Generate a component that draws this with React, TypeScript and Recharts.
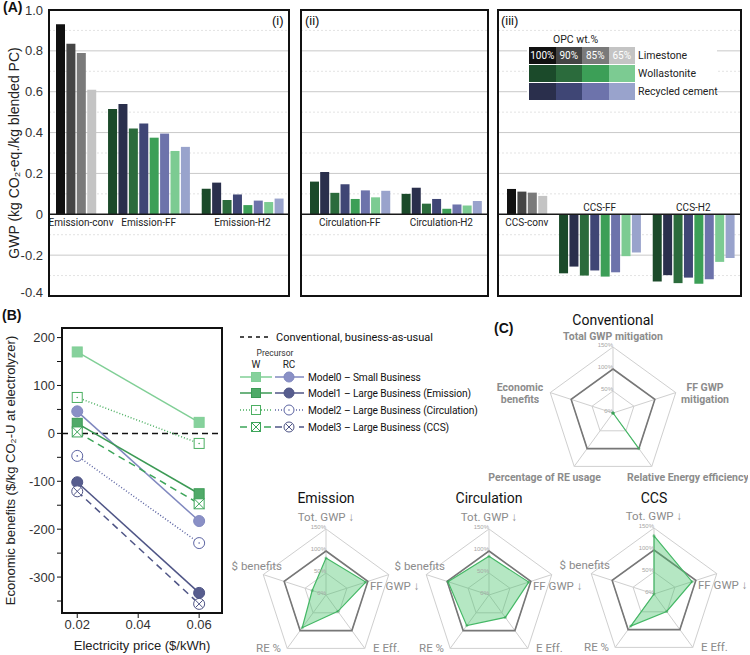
import React from 'react';
import {
  BarChart, Bar, Cell, XAxis, YAxis, CartesianGrid, ReferenceLine, ReferenceArea,
  LineChart, Line, RadarChart, Radar, PolarGrid, PolarAngleAxis, PolarRadiusAxis,
} from 'recharts';

// ---------- (A) GWP bars ----------
const opcLevels = ['100%', '90%', '85%', '65%'];
const limestoneColors = ['#111111', '#454545', '#7a7a7a', '#c4c4c4'];
const wollastoniteColors = ['#1b4a2a', '#2b6b3c', '#3c9f57', '#7ccb92'];
const recycledColors = ['#2a2f4c', '#3f4675', '#6d73ab', '#99a3cc'];

// kg CO2-eq / kg blended PC, one value per OPC wt.%
const emissionConv = [0.93, 0.835, 0.79, 0.61];
const emissionFFW = [0.515, 0.42, 0.375, 0.31];
const emissionFFRC = [0.54, 0.445, 0.395, 0.33];
const emissionH2W = [0.125, 0.07, 0.045, 0.06];
const emissionH2RC = [0.155, 0.097, 0.067, 0.077];
const circulationFFW = [0.16, 0.105, 0.075, 0.083];
const circulationFFRC = [0.207, 0.147, 0.117, 0.115];
const circulationH2W = [0.1, 0.052, 0.027, 0.043];
const circulationH2RC = [0.13, 0.075, 0.048, 0.065];
const ccsConv = [0.124, 0.111, 0.106, 0.09];
const ccsFFW = [-0.289, -0.3, -0.305, -0.205];
const ccsFFRC = [-0.256, -0.275, -0.284, -0.187];
const ccsH2W = [-0.329, -0.337, -0.34, -0.233];
const ccsH2RC = [-0.298, -0.31, -0.318, -0.214];

const gwpTicks = [1.0, 0.8, 0.6, 0.4, 0.2, 0, -0.2, -0.4];
const gwpMajor = [0.8, 0.6, 0.4, 0.2, -0.2];
const gwpMinor = [0.9, 0.7, 0.5, 0.3, 0.1, -0.1, -0.3];

// ---------- (B) economic benefits ----------
const prices = [0.02, 0.06];
const model0W = [170, 23];
const model0RC = [46, -183];
const model1W = [21, -126];
const model1RC = [-102, -333];
const model2W = [75, -21];
const model2RC = [-47, -229];
const model3W = [3, -147];
const model3RC = [-121, -356];
const benefitTicks = [200, 150, 100, 50, 0, -50, -100, -150, -200, -250, -300, -350];
const priceTicks = [0.02, 0.04, 0.06];

// ---------- (C) radar scores, % ----------
const longAxes = ['Total GWP mitigation', 'FF GWP\nmitigation', 'Relative Energy efficiency', 'Percentage of RE usage', 'Economic\nbenefits'];
const shortAxes = ['Tot. GWP ↓', 'FF GWP ↓', 'E Eff.', 'RE %', '$ benefits'];
const conventionalScores = [0, 0, 100, 0, 0];
const emissionScores = [84, 95, 46, 92, 33];
const circulationScores = [88, 95, 63, 86, 98];
const ccsScores = [132, 91, 49, 90, 0];
const baselineScores = [100, 100, 100, 100, 100];

const SANS = 'Roboto, "Liberation Sans", Arial, sans-serif';
const ARIAL = 'Arial, "Liberation Sans", sans-serif';

type Group = { name: string; conv?: number[]; w?: number[]; rc?: number[]; above?: boolean; wide?: boolean };

const buildRows = (groups: Group[]) => {
  const rows: { key: string; gwp: number | null; fill: string }[] = [];
  const spans: { name: string; first: string; last: string; above?: boolean }[] = [];
  groups.forEach((g, gi) => {
    if (gi > 0) rows.push({ key: `gap-${gi}`, gwp: null, fill: 'none' });
    const start = rows.length;
    opcLevels.forEach((opc, i) => {
      if (g.conv) {
        rows.push({ key: `${g.name}|${opc}|L`, gwp: g.conv[i], fill: limestoneColors[i] });
      } else {
        rows.push({ key: `${g.name}|${opc}|W`, gwp: g.w![i], fill: wollastoniteColors[i] });
        rows.push({ key: `${g.name}|${opc}|RC`, gwp: g.rc![i], fill: recycledColors[i] });
      }
    });
    // a wide label also takes the gap after its group
    const last = g.wide ? `gap-${gi + 1}` : rows[rows.length - 1].key;
    spans.push({ name: g.name, first: rows[start].key, last, above: g.above });
  });
  return { rows, spans };
};

const GwpPanel = ({ groups, left, width, showAxis, padLeft, padRight }: any) => {
  const { rows, spans } = buildRows(groups);
  return (
    <div style={{ position: 'absolute', left, top: 0 }}>
      <BarChart width={width} height={300} data={rows} margin={{ top: 10, right: 0, bottom: 4, left: 0 }}>
        <CartesianGrid vertical={false} horizontalValues={gwpMinor} stroke="#e3e3e3" strokeDasharray="2 2" />
        <CartesianGrid vertical={false} horizontalValues={gwpMajor} stroke="#c9c9c9" />
        <XAxis dataKey="key" hide padding={{ left: padLeft, right: padRight }} />
        <YAxis
          domain={[-0.4, 1]}
          ticks={gwpTicks}
          hide={!showAxis}
          width={49}
          axisLine={false}
          tickLine={false}
          tickSize={4}
          tick={{ fontSize: 13, fill: '#333', fontFamily: ARIAL }}
          tickFormatter={(v: number) => (v === 0 ? '0' : v.toFixed(1))}
          label={{
            value: 'GWP (kg CO₂-eq./kg blended PC)', angle: -90, position: 'insideLeft', offset: 14,
            style: { textAnchor: 'middle' }, fontSize: 14, fill: '#222', fontFamily: ARIAL,
          }}
        />
        <Bar dataKey="gwp" barSize={9} isAnimationActive={false}>
          {rows.map((r) => <Cell key={r.key} fill={r.fill} />)}
        </Bar>
        <ReferenceLine y={0} stroke="#1a1a1a" strokeWidth={1.5} />
        {spans.map((s) => (
          <ReferenceArea
            key={s.name}
            x1={s.first}
            x2={s.last}
            y1={s.above ? 0 : -0.08}
            y2={s.above ? 0.07 : 0}
            fill="#fff"
            fillOpacity={0}
            stroke="none"
            label={{ value: s.name, position: 'center', fontSize: 10, fill: '#222', fontFamily: SANS }}
          />
        ))}
      </BarChart>
    </div>
  );
};

const Marker = ({ cx, cy, shape, fill, stroke, cross, size = 5 }: any) => {
  if (cx == null || cy == null) return null;
  const d = shape === 'square' ? size : size * 0.72;
  return (
    <g>
      {shape === 'square' ? (
        <rect x={cx - size} y={cy - size} width={size * 2} height={size * 2} fill={fill} stroke={stroke} strokeWidth={1} />
      ) : (
        <circle cx={cx} cy={cy} r={size + 0.5} fill={fill} stroke={stroke} strokeWidth={1} />
      )}
      {cross && (
        <g stroke={stroke} strokeWidth={1}>
          <line x1={cx - d} y1={cy - d} x2={cx + d} y2={cy + d} />
          <line x1={cx - d} y1={cy + d} x2={cx + d} y2={cy - d} />
        </g>
      )}
      {fill === '#fff' && !cross && <circle cx={cx} cy={cy} r={0.8} fill={stroke} />}
    </g>
  );
};

const benefitSeries = [
  { key: 'm0rc', values: model0RC, color: '#8088bf', dash: undefined, shape: 'circle', fill: '#8a90c6', cross: false },
  { key: 'm1rc', values: model1RC, color: '#4f5586', dash: undefined, shape: 'circle', fill: '#575d8e', cross: false },
  { key: 'm2rc', values: model2RC, color: '#5d65a3', dash: '1 2', shape: 'circle', fill: '#fff', cross: false },
  { key: 'm3rc', values: model3RC, color: '#4f5586', dash: '7 5', shape: 'circle', fill: '#fff', cross: true },
  { key: 'm0w', values: model0W, color: '#80cf96', dash: undefined, shape: 'square', fill: '#86d19c', cross: false },
  { key: 'm1w', values: model1W, color: '#3c9a55', dash: undefined, shape: 'square', fill: '#50aa69', cross: false },
  { key: 'm2w', values: model2W, color: '#4caf62', dash: '1 2', shape: 'square', fill: '#fff', cross: false },
  { key: 'm3w', values: model3W, color: '#3da55a', dash: '7 5', shape: 'square', fill: '#fff', cross: true },
];

const benefitRows = prices.map((p, i) => {
  const row: any = { price: p };
  benefitSeries.forEach((s) => { row[s.key] = s.values[i]; });
  return row;
});

const EconomicPanel = () => (
  <div style={{ position: 'absolute', left: 0, top: 318 }}>
    <LineChart width={230} height={337} data={benefitRows} margin={{ top: 10, right: 8, bottom: 0, left: 0 }}>
      <XAxis
        dataKey="price"
        type="number"
        domain={[0.015, 0.0675]}
        ticks={priceTicks}
        allowDataOverflow
        height={42}
        axisLine={false}
        tickSize={5}
        tickLine={{ stroke: '#111' }}
        tick={{ fontSize: 13, fill: '#333', fontFamily: ARIAL }}
        tickFormatter={(v: number) => v.toFixed(2)}
        label={{ value: 'Electricity price ($/kWh)', position: 'insideBottom', offset: 5, fontSize: 13, fill: '#222', fontFamily: ARIAL }}
      />
      <YAxis
        domain={[-375, 220]}
        ticks={benefitTicks}
        allowDataOverflow
        width={62}
        axisLine={false}
        tickSize={5}
        tickLine={{ stroke: '#111' }}
        tick={{ fontSize: 13, fill: '#333', fontFamily: ARIAL }}
        tickFormatter={(v: number) => (v % 100 === 0 ? String(v) : '')}
        label={{
          value: 'Economic benefits ($/kg CO₂-U at electrolyzer)', angle: -90, position: 'insideLeft', offset: 10,
          style: { textAnchor: 'middle' }, fontSize: 13, fill: '#222', fontFamily: ARIAL,
        }}
      />
      <ReferenceLine y={0} stroke="#111" strokeWidth={1.5} strokeDasharray="6 4" />
      {benefitSeries.map((s) => (
        <Line
          key={s.key}
          dataKey={s.key}
          stroke={s.color}
          strokeWidth={1.5}
          strokeDasharray={s.dash}
          isAnimationActive={false}
          dot={(p: any) => (
            <Marker key={`${s.key}-${p.index}`} cx={p.cx} cy={p.cy} shape={s.shape} fill={s.fill} stroke={s.color} cross={s.cross} />
          )}
          activeDot={false}
        />
      ))}
    </LineChart>
  </div>
);

const BenefitLegend = () => {
  const rowsY = [51, 67, 84, 101];
  const names = ['Model0 – Small Business', 'Model1 – Large Business (Emission)', 'Model2 – Large Business (Circulation)', 'Model3 – Large Business (CCS)'];
  const wSeries = benefitSeries.filter((s) => s.shape === 'square');
  const rcSeries = benefitSeries.filter((s) => s.shape === 'circle');
  return (
    <svg width={262} height={112} style={{ position: 'absolute', left: 230, top: 326 }} fontFamily={SANS}>
      <line x1={10} y1={11} x2={40} y2={11} stroke="#111" strokeWidth={1.3} strokeDasharray="4 4" />
      <text x={46} y={15} fontSize={11} fill="#111">Conventional, business-as-usual</text>
      <text x={45} y={30} fontSize={8.5} fill="#333" textAnchor="middle">Precursor</text>
      <text x={26} y={42} fontSize={10} fill="#222" textAnchor="middle">W</text>
      <text x={59} y={42} fontSize={10} fill="#222" textAnchor="middle">RC</text>
      {rowsY.map((y, i) => (
        <g key={names[i]}>
          <line x1={10} y1={y} x2={42} y2={y} stroke={wSeries[i].color} strokeWidth={1.5} strokeDasharray={wSeries[i].dash} />
          <line x1={45} y1={y} x2={74} y2={y} stroke={rcSeries[i].color} strokeWidth={1.5} strokeDasharray={rcSeries[i].dash} />
          <Marker cx={26} cy={y} shape="square" fill={wSeries[i].fill} stroke={wSeries[i].color} cross={wSeries[i].cross} size={4.5} />
          <Marker cx={59} cy={y} shape="circle" fill={rcSeries[i].fill} stroke={rcSeries[i].color} cross={rcSeries[i].cross} size={4.5} />
          <text x={78} y={y + 4} fontSize={10.2} letterSpacing={-0.1} fill="#111">{names[i]}</text>
        </g>
      ))}
    </svg>
  );
};

const convOffsets = [
  { dx: 0, dy: -77, anchor: 'middle' },
  { dx: 92, dy: -19.5, anchor: 'middle' },
  { dx: 14, dy: 64, anchor: 'start' },
  { dx: -12, dy: 64, anchor: 'end' },
  { dx: -93, dy: -19.5, anchor: 'middle' },
];
const shortOffsets = [
  { dx: 0, dy: -78, anchor: 'middle' },
  { dx: 44, dy: -9, anchor: 'start' },
  { dx: 47, dy: 53, anchor: 'start' },
  { dx: -45, dy: 53, anchor: 'end' },
  { dx: -44, dy: -29, anchor: 'end' },
];

const RadarPanel = ({ left, top, width, height, cx, cy, names, scores, offsets, bold, title, titleTop }: any) => {
  const rows = names.map((n: string, i: number) => ({ axis: n, score: scores[i], base: baselineScores[i] }));
  const fs = bold ? 10.5 : 11.5;
  const renderTick = (props: any) => {
    const value = String(props.payload.value);
    const o = offsets[names.indexOf(value)];
    const lines = value.split('\n');
    const lh = fs * 1.2;
    const first = -((lines.length - 1) * lh) / 2 + fs * 0.35;
    return (
      <text
        x={cx + o.dx}
        y={cy + o.dy}
        textAnchor={o.anchor}
        fontSize={fs}
        fontWeight={bold ? 700 : 400}
        fill="#8c8c8c"
        fontFamily={SANS}
      >
        {lines.map((l, i) => (
          <tspan key={l} x={cx + o.dx} dy={i === 0 ? first : lh}>{l}</tspan>
        ))}
      </text>
    );
  };
  return (
    <>
      <div
        style={{
          position: 'absolute', left: left + cx - 60, top: titleTop, width: 120, textAlign: 'center',
          fontFamily: SANS, fontSize: 14, color: '#111', lineHeight: '15px',
        }}
      >
        {title}
      </div>
      <div style={{ position: 'absolute', left, top }}>
        <RadarChart width={width} height={height} cx={cx} cy={cy} outerRadius={66} data={rows} margin={{ top: 0, right: 0, bottom: 0, left: 0 }}>
          <PolarGrid gridType="polygon" polarRadius={[22, 44, 66]} stroke="#cfcfcf" />
          <PolarAngleAxis dataKey="axis" tick={renderTick} tickLine={false} axisLine={false} />
          <PolarRadiusAxis
            angle={90}
            domain={[0, 150]}
            tickCount={4}
            orientation="left"
            axisLine={false}
            tickLine={false}
            tick={{ fontSize: 6, fill: '#a6a6a6', fontFamily: ARIAL }}
            tickFormatter={(v: number) => `${v}%`}
          />
          <Radar dataKey="base" stroke="#777" strokeWidth={1.6} fill="none" isAnimationActive={false} />
          <Radar
            dataKey="score"
            stroke="#45b866"
            strokeWidth={1.2}
            fill="#45c46a"
            fillOpacity={0.4}
            dot={{ r: 1.6, fill: '#2c9e4b', stroke: 'none' }}
            isAnimationActive={false}
          />
        </RadarChart>
      </div>
    </>
  );
};

const panelBox = (left: number, top: number, width: number, height: number) => (
  <div
    style={{
      position: 'absolute', left, top, width, height, border: '2px solid #111', boxSizing: 'border-box', pointerEvents: 'none',
    }}
  />
);

const tag = (text: string, left: number, top: number, bold = false) => (
  <div style={{ position: 'absolute', left, top, fontFamily: ARIAL, fontSize: bold ? 14 : 13, fontWeight: bold ? 700 : 400, color: '#111' }}>
    {text}
  </div>
);

const OpcLegend = () => {
  const rowsDef = [
    { name: 'Limestone', colors: limestoneColors },
    { name: 'Wollastonite', colors: wollastoniteColors },
    { name: 'Recycled cement', colors: recycledColors },
  ];
  return (
    <div style={{ position: 'absolute', left: 527, top: 33, width: 190, height: 69, background: '#fff', fontFamily: SANS }}>
      <div style={{ position: 'absolute', left: 26, top: 0, fontSize: 10.5, color: '#222' }}>OPC wt.%</div>
      {rowsDef.map((r, ri) => (
        <div key={r.name} style={{ position: 'absolute', left: 2, top: 14 + ri * 18, height: 17, display: 'flex', alignItems: 'center' }}>
          {r.colors.map((c, ci) => (
            <div
              key={c}
              style={{
                width: 26.5, height: 17, background: c, color: '#fff', fontSize: 10, textAlign: 'center', lineHeight: '17px',
              }}
            >
              {ri === 0 ? opcLevels[ci] : ''}
            </div>
          ))}
          <div style={{ marginLeft: 3, fontSize: 10.5, color: '#222', whiteSpace: 'nowrap' }}>{r.name}</div>
        </div>
      ))}
    </div>
  );
};

export default function App() {
  return (
    <div style={{ position: 'absolute', left: 0, top: 0, width: 750, height: 655, background: '#fff', overflow: 'hidden' }}>
      <GwpPanel
        left={0}
        width={289}
        showAxis
        padLeft={6}
        padRight={5}
        groups={[
          { name: 'Emission-conv', conv: emissionConv, wide: true },
          { name: 'Emission-FF', w: emissionFFW, rc: emissionFFRC },
          { name: 'Emission-H2', w: emissionH2W, rc: emissionH2RC },
        ]}
      />
      <GwpPanel
        left={301}
        width={187}
        padLeft={8}
        padRight={6}
        groups={[
          { name: 'Circulation-FF', w: circulationFFW, rc: circulationFFRC },
          { name: 'Circulation-H2', w: circulationH2W, rc: circulationH2RC },
        ]}
      />
      <GwpPanel
        left={498}
        width={243}
        padLeft={8}
        padRight={6}
        groups={[
          { name: 'CCS-conv', conv: ccsConv },
          { name: 'CCS-FF', w: ccsFFW, rc: ccsFFRC, above: true },
          { name: 'CCS-H2', w: ccsH2W, rc: ccsH2RC, above: true },
        ]}
      />
      {panelBox(48, 9, 242, 288)}
      {panelBox(300, 9, 189, 288)}
      {panelBox(497, 9, 245, 288)}
      <OpcLegend />
      {tag('(A)', 3, -1, true)}
      {tag('(i)', 272, 13)}
      {tag('(ii)', 305, 13)}
      {tag('(iii)', 501, 13)}

      <EconomicPanel />
      {panelBox(61, 327, 162, 287)}
      <BenefitLegend />
      {tag('(B)', 2, 307, true)}

      {tag('(C)', 494, 320, true)}
      <RadarPanel left={488} top={324} width={260} height={164} cx={125} cy={89} names={longAxes} scores={conventionalScores} offsets={convOffsets} bold title="Conventional" titleTop={313} />
      <RadarPanel left={224} top={500} width={204} height={155} cx={102} cy={95} names={shortAxes} scores={emissionScores} offsets={shortOffsets} title="Emission" titleTop={491} />
      <RadarPanel left={387} top={500} width={204} height={155} cx={102} cy={95} names={shortAxes} scores={circulationScores} offsets={shortOffsets} title="Circulation" titleTop={491} />
      <RadarPanel left={552} top={500} width={198} height={155} cx={102} cy={94} names={shortAxes} scores={ccsScores} offsets={shortOffsets} title="CCS" titleTop={491} />
    </div>
  );
}
